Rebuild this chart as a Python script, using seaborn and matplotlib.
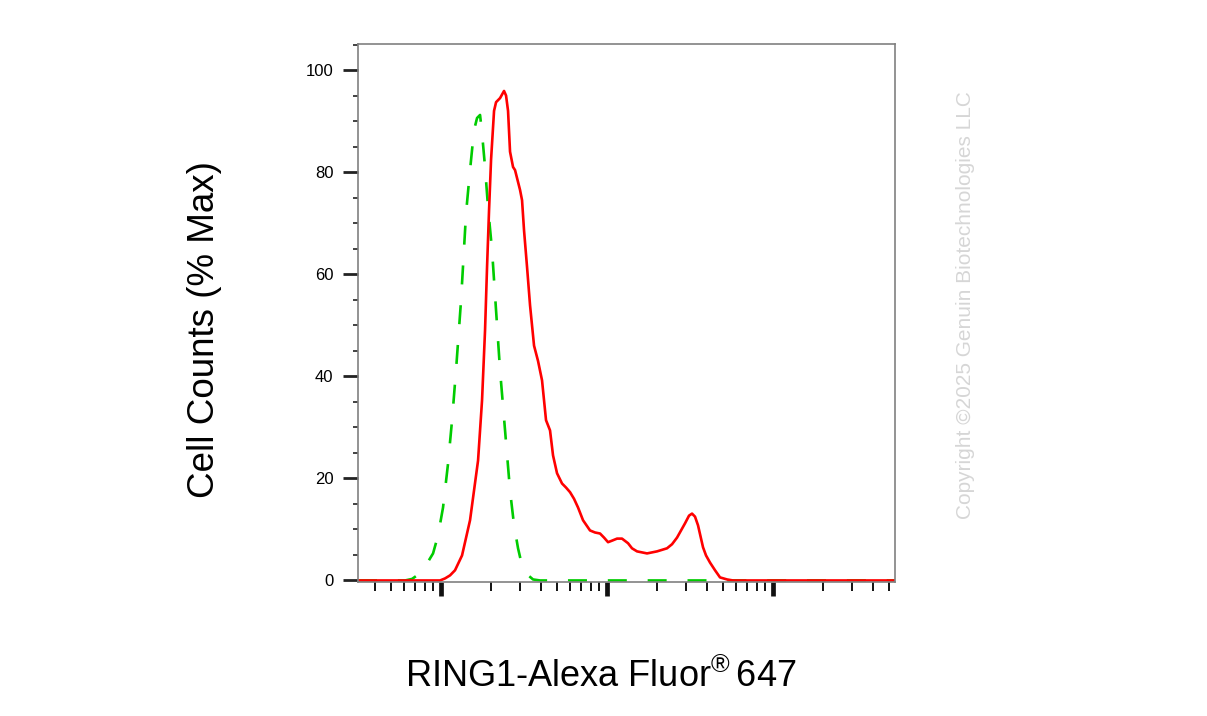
import numpy as np
import pandas as pd
import matplotlib
matplotlib.use("Agg")
import matplotlib.pyplot as plt
import seaborn as sns
from matplotlib.ticker import MultipleLocator, LogLocator, NullFormatter

# fluorescence intensity (log axis) and % of max cell counts
red_x = [31.6, 98.6, 105.7, 113.3, 121.4, 133.8, 149.5, 167.1, 176.6, 184.1,
         189.3, 194.6, 200.1, 208.6, 214.5, 226.7, 239.6, 246.4, 253.3, 260.4,
         271.5, 279.1, 299.2, 307.6, 316.2, 329.7, 343.7, 363.3, 384.0, 405.9,
         429.0, 453.5, 472.8, 499.8, 535.6, 566.2, 598.5, 632.6, 668.7, 716.7,
         789.7, 846.4, 907.4, 959.1, 1014, 1072, 1149, 1231, 1338, 1414,
         1516, 1742, 2001, 2298, 2464, 2641, 2792, 2951, 3119, 3251,
         3389, 3533, 3787, 3948, 4174, 4473, 4794, 5284, 5741, 54310]
red_y = [0.0, 0.0, 0.4, 1.0, 2.0, 4.9, 11.8, 23.5, 35.3, 49.0,
         61.4, 72.5, 82.4, 92.0, 93.7, 94.5, 95.9, 95.0, 92.0, 84.0,
         81.0, 80.4, 76.5, 74.5, 68.6, 61.4, 53.9, 46.0, 43.0, 39.2,
         31.4, 29.4, 24.5, 21.0, 19.0, 18.2, 17.3, 16.0, 14.3, 11.8,
         9.8, 9.4, 9.2, 8.4, 7.5, 7.8, 8.2, 8.2, 7.3, 6.3,
         5.7, 5.3, 5.7, 6.3, 7.1, 8.4, 9.8, 11.2, 12.7, 13.1,
         12.5, 10.8, 6.5, 4.9, 3.5, 2.0, 0.6, 0.2, 0.0, 0.0]

green_x = [31.6, 60.7, 66.9, 71.7, 80.1, 89.5, 95.9, 102.8, 110.2, 116.5,
           123.1, 132.0, 141.5, 149.5, 158.0, 164.8, 171.8, 176.6, 184.1, 191.9,
           202.9, 214.5, 226.7, 243.0, 260.4, 275.4, 291.0, 307.6, 329.7, 358.3,
           394.9, 54310]
green_y = [0.0, 0.0, 0.3, 1.0, 2.7, 5.3, 8.8, 14.3, 22.9, 31.4,
           41.2, 54.9, 72.0, 80.4, 88.2, 90.6, 91.2, 87.6, 81.0, 73.1,
           64.7, 52.9, 41.2, 29.4, 17.6, 10.8, 6.3, 2.9, 1.2, 0.2,
           0.0, 0.0]

df = pd.concat([
    pd.DataFrame({"x": green_x, "y": green_y, "s": "isotype"}),
    pd.DataFrame({"x": red_x, "y": red_y, "s": "RING1"}),
], ignore_index=True)

sns.set_style("white")
plt.rcParams["font.family"] = ["Liberation Sans", "DejaVu Sans"]
plt.rcParams["mathtext.fontset"] = "custom"
plt.rcParams["mathtext.rm"] = "Liberation Sans"
plt.rcParams["text.color"] = "black"
plt.rcParams["ytick.labelcolor"] = "black"

fig = plt.figure(figsize=(12.07, 7.16), dpi=100)
ax = fig.add_axes([358 / 1207, 1 - 582 / 716, 537 / 1207, 538 / 716])

sns.lineplot(data=df, x="x", y="y", hue="s", style="s",
             palette={"isotype": "#00cc00", "RING1": "#ff0000"},
             dashes={"isotype": (7.2, 7.9), "RING1": ""},
             sort=False, estimator=None, linewidth=1.9, legend=False, ax=ax)

ax.set_xscale("log")
ax.set_xlim(31.6, 54310)
ax.set_ylim(-0.3, 105.1)

for sp in ax.spines.values():
    sp.set_color("#808080")
    sp.set_linewidth(1.2)

ax.yaxis.set_major_locator(MultipleLocator(20))
ax.yaxis.set_minor_locator(MultipleLocator(5))
ax.xaxis.set_major_locator(LogLocator(base=10))
ax.xaxis.set_minor_locator(LogLocator(base=10, subs=np.arange(2, 10)))
ax.xaxis.set_major_formatter(NullFormatter())
ax.xaxis.set_minor_formatter(NullFormatter())

ax.tick_params(axis="y", which="major", length=10.8, width=2.0, color="#222222",
               labelsize=12, labelcolor="black", pad=7, direction="out", left=True)
ax.tick_params(axis="y", which="minor", length=3.6, width=1.2, color="#222222",
               direction="out", left=True)
ax.tick_params(axis="x", which="major", length=10, width=3.4, color="#111111",
               direction="out", bottom=True)
ax.tick_params(axis="x", which="minor", length=6.5, width=1.4, color="#111111",
               direction="out", bottom=True)

ax.set_xlabel("")
ax.set_ylabel("")
fig.text(205 / 1207, 1 - 330 / 716, "Cell Counts (% Max)", rotation=90,
         ha="center", va="center", fontsize=26.5, color="black")
fig.text(601 / 1207, 1 - 677 / 716, r"RING1-Alexa Fluor$^{\mathrm{®}}\,$647",
         ha="center", va="center", fontsize=26, color="black")
fig.text(966 / 1207, 1 - 305 / 716, "Copyright ©2025 Genuin Biotechnologies LLC",
         rotation=90, ha="center", va="center", fontsize=15, color="#d6d6d6")

fig.savefig("out.png", dpi=100)
